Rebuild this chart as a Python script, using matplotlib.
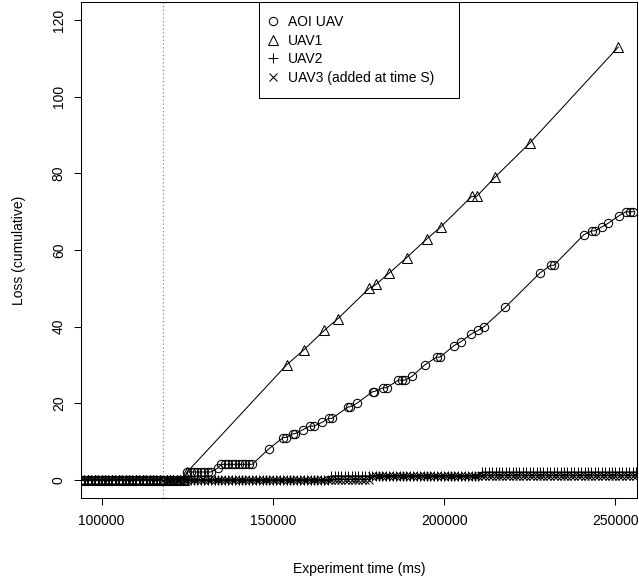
import numpy as np
import matplotlib
matplotlib.use("Agg")
import matplotlib.pyplot as plt
from matplotlib.lines import Line2D

plt.rcParams['font.family'] = ['Liberation Sans', 'DejaVu Sans']

# ---------------- data ----------------
sample_step_ms = 1000          # spacing of the dense flat runs
time_S = 118000                # time at which UAV3 was added (dotted line)

# AOI UAV: flat runs (start, end, loss) + individual points
aoi_runs = [(94000, 124000, 0), (125000, 132000, 2), (135000, 144000, 4)]
aoi_time = [133870, 148770, 153030, 153735, 155960, 156450, 158700, 160830,
            162090, 164420, 166380, 167250, 172010, 172510, 174640, 179130,
            179600, 182230, 183220, 186610, 187630, 188640, 190650, 194370,
            197810, 198780, 202860, 204820, 207820, 209950, 211700, 217830,
            227960, 231090, 232050, 240800, 243060, 244010, 245970, 247900,
            251110, 253070, 254230, 255200]
aoi_loss = [3, 8, 11, 11, 12, 12, 13, 14,
            14, 15, 16, 16, 19, 19, 20, 23,
            23, 24, 24, 26, 26, 26, 27, 30,
            32, 32, 35, 36, 38, 39, 40, 45,
            54, 56, 56, 64, 65, 65, 66, 67,
            69, 70, 70, 70]

# UAV1
uav1_runs = [(94000, 124000, 0)]
uav1_time = [125000, 154030, 159160, 165010, 168910, 178140, 180100, 183970,
             189050, 195070, 198980, 208020, 209480, 214830, 225050, 250810]
uav1_loss = [2, 30, 34, 39, 42, 50, 51, 54,
             58, 63, 66, 74, 74, 79, 88, 113]

# UAV2 and UAV3: only flat runs near zero
uav2_runs = [(94000, 166000, 0), (167000, 210000, 1), (211000, 256000, 2)]
uav3_runs = [(118000, 178000, 0), (179000, 256000, 1)]

labels = ["AOI UAV", "UAV1", "UAV2", "UAV3 (added at time S)"]
x_ticks = [100000, 150000, 200000, 250000]
y_ticks = [0, 20, 40, 60, 80, 100, 120]


def build(runs, times=(), losses=()):
    t, v = [], []
    for a, b, val in runs:
        for x in range(a, b + 1, sample_step_ms):
            t.append(x)
            v.append(val)
    t += list(times)
    v += list(losses)
    order = np.argsort(t, kind="stable")
    return np.asarray(t)[order], np.asarray(v)[order]


aoi_t, aoi_v = build(aoi_runs, aoi_time, aoi_loss)
u1_t, u1_v = build(uav1_runs, uav1_time, uav1_loss)
u2_t, u2_v = build(uav2_runs)
u3_t, u3_v = build(uav3_runs)

# ---------------- figure ----------------
W, H = 639, 580
fig = plt.figure(figsize=(W / 100, H / 100), dpi=100)
L, R, T, B = 81, 637, 2, 498
ax = fig.add_axes([L / W, 1 - B / H, (R - L) / W, (B - T) / H])

lw = 0.75
ms_o, ms_t, ms_p, ms_x = 6.0, 6.8, 7.5, 5.8
common = dict(color="black", lw=lw, mfc="none", mec="black", mew=lw)
ax.plot(aoi_t, aoi_v, marker="o", ms=ms_o, **common)
ax.plot(u1_t, u1_v, marker="^", ms=ms_t, **common)
ax.plot(u2_t, u2_v, marker="+", ms=ms_p, **common)
ax.plot(u3_t, u3_v, marker="x", ms=ms_x, **common)

ax.axvline(time_S, color="#888888", lw=0.9, ls=(0, (1, 2)))

ax.set_xlim(94000, 256300)
ax.set_ylim(-4.8, 124.8)
ax.set_xticks(x_ticks)
ax.set_xticklabels([str(v) for v in x_ticks])
ax.set_yticks(y_ticks)
ax.set_yticklabels([str(v) for v in y_ticks], rotation=90, va="center")

fs = 10
ax.tick_params(axis="both", direction="out", length=5.2, width=lw,
               labelsize=fs, colors="black")
ax.tick_params(axis="x", pad=6)
ax.tick_params(axis="y", pad=5.7)
for s in ax.spines.values():
    s.set_linewidth(lw)
    s.set_color("black")

ax.set_xlabel("Experiment time (ms)", fontsize=fs, labelpad=24.5)
ax.set_ylabel("Loss (cumulative)", fontsize=fs, labelpad=18.5)

handles = [
    Line2D([], [], marker="o", ls="none", ms=ms_o, mfc="none", mec="black", mew=lw),
    Line2D([], [], marker="^", ls="none", ms=ms_t, mfc="none", mec="black", mew=lw),
    Line2D([], [], marker="+", ls="none", ms=ms_p, mec="black", mew=lw),
    Line2D([], [], marker="x", ls="none", ms=ms_x, mec="black", mew=lw),
]
bx0 = (259 - L) / (R - L)
bw = (459 - 259) / (R - L)
leg = ax.legend(handles, labels, loc="upper left",
                bbox_to_anchor=(bx0, 0, bw, 1), mode="expand",
                borderaxespad=0, fancybox=False, edgecolor="black",
                framealpha=1, fontsize=fs, handlelength=0.05,
                handletextpad=1.1, labelspacing=0.32, borderpad=0.95)
leg.get_frame().set_linewidth(lw)

fig.savefig("out.png", dpi=100, facecolor="white")
